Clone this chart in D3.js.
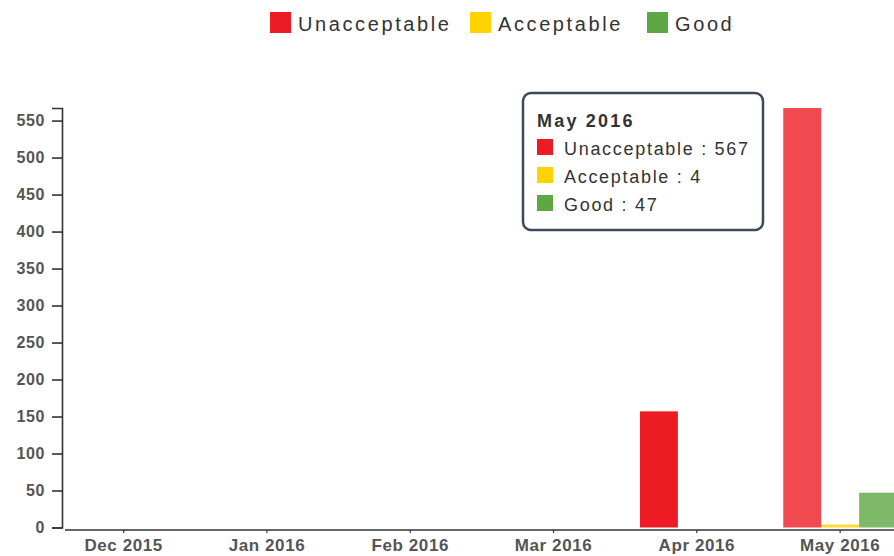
<!DOCTYPE html>
<html>
<head>
<meta charset="utf-8">
<script src="https://cdn.jsdelivr.net/npm/d3@7/dist/d3.min.js"></script>
<style>
  html, body { margin: 0; padding: 0; background: #fff; }
  svg { display: block; font-family: Arial, "Liberation Sans", sans-serif; }
</style>
</head>
<body>
<svg id="chart" width="894" height="556"></svg>
<script>
const months = ["Dec 2015", "Jan 2016", "Feb 2016", "Mar 2016", "Apr 2016", "May 2016"];
const seriesNames = ["Unacceptable", "Acceptable", "Good"];
const seriesColors = ["#ED1C24", "#FFD200", "#5DA842"];
const unacceptable = [0, 0, 0, 0, 157, 567];
const acceptable = [0, 0, 0, 0, 0, 4];
const good = [0, 0, 0, 0, 0, 47];
const yTicks = [0, 50, 100, 150, 200, 250, 300, 350, 400, 450, 500, 550];
const hoveredMonth = "May 2016";

const seriesValues = [unacceptable, acceptable, good];
const svg = d3.select("#chart");

const x0 = d3.scaleBand().domain(months).range([59.6, 904.2]).paddingInner(0.206).paddingOuter(0.05);
const x1 = d3.scaleBand().domain(seriesNames).range([0, x0.bandwidth()]);
const y = d3.scaleLinear().domain([0, d3.max(unacceptable)]).range([527.5, 108]);
const color = d3.scaleOrdinal().domain(seriesNames).range(seriesColors);

// bars
const groups = svg.append("g").selectAll("g").data(months).join("g")
  .attr("transform", d => `translate(${x0(d)},0)`)
  .attr("fill-opacity", d => d === hoveredMonth ? 0.8 : 1);
groups.selectAll("rect")
  .data((m, i) => seriesNames.map((s, k) => ({ s, v: seriesValues[k][i] })))
  .join("rect")
  .attr("x", d => x1(d.s))
  .attr("width", x1.bandwidth())
  .attr("y", d => y(d.v))
  .attr("height", d => y(0) - y(d.v))
  .attr("fill", d => color(d.s));

// y axis
const yAxis = d3.axisLeft(y).tickValues(yTicks).tickSizeInner(10).tickSizeOuter(10).tickPadding(7);
const gy = svg.append("g").attr("transform", "translate(62,0)").call(yAxis);
gy.select(".domain").attr("stroke", "#333").attr("stroke-width", 1.6);
gy.selectAll(".tick line").attr("stroke", "#333").attr("stroke-width", 1.6);
gy.selectAll(".tick text").attr("font-size", 16).attr("font-weight", "bold").attr("fill", "#555")
  .attr("letter-spacing", 0.6)
  .attr("font-family", "Arial, 'Liberation Sans', sans-serif");

// x axis
const xCenter = d3.scaleOrdinal().domain(months).range(months.map(m => x0(m) + x0.bandwidth() / 2));
const gx = svg.append("g").attr("transform", "translate(0,530)");
gx.append("line").attr("x1", 65).attr("x2", 894).attr("stroke", "#333").attr("stroke-width", 1.6);
const xt = gx.selectAll("g.tick").data(months).join("g").attr("class", "tick")
  .attr("transform", d => `translate(${xCenter(d)},0)`);
xt.append("line").attr("y2", 3).attr("stroke", "#333").attr("stroke-width", 1.2);
xt.append("text").attr("y", 21).attr("text-anchor", "middle")
  .attr("font-size", 17).attr("font-weight", "bold").attr("fill", "#555")
  .attr("letter-spacing", 0.6)
  .text(d => d);

// legend
const legendX = [270, 470, 647];
const lg = svg.append("g").selectAll("g").data(seriesNames).join("g")
  .attr("transform", (d, i) => `translate(${legendX[i]},12)`);
lg.append("rect").attr("width", 21).attr("height", 21).attr("fill", d => color(d));
lg.append("text").attr("x", 28).attr("y", 19).attr("font-size", 20).attr("letter-spacing", 2.6)
  .attr("fill", "#333").text(d => d);

// tooltip
const hi = months.indexOf(hoveredMonth);
const tip = svg.append("g").attr("transform", "translate(523,93)");
tip.append("rect").attr("width", 240).attr("height", 137).attr("rx", 8).attr("ry", 8)
  .attr("fill", "#fff").attr("stroke", "#3C4A5C").attr("stroke-width", 2.5);
tip.append("text").attr("x", 14).attr("y", 34).attr("font-size", 18).attr("font-weight", "bold")
  .attr("letter-spacing", 2.2).attr("fill", "#333").text(hoveredMonth);
const rows = tip.selectAll("g.row").data(seriesNames).join("g").attr("class", "row")
  .attr("transform", (d, i) => `translate(14,${46 + i * 28})`);
rows.append("rect").attr("width", 16).attr("height", 16).attr("fill", d => color(d));
rows.append("text").attr("x", 27).attr("y", 16).attr("font-size", 18).attr("letter-spacing", 1.7)
  .attr("fill", "#333").text((d, k) => `${d} : ${seriesValues[k][hi]}`);
</script>
</body>
</html>
